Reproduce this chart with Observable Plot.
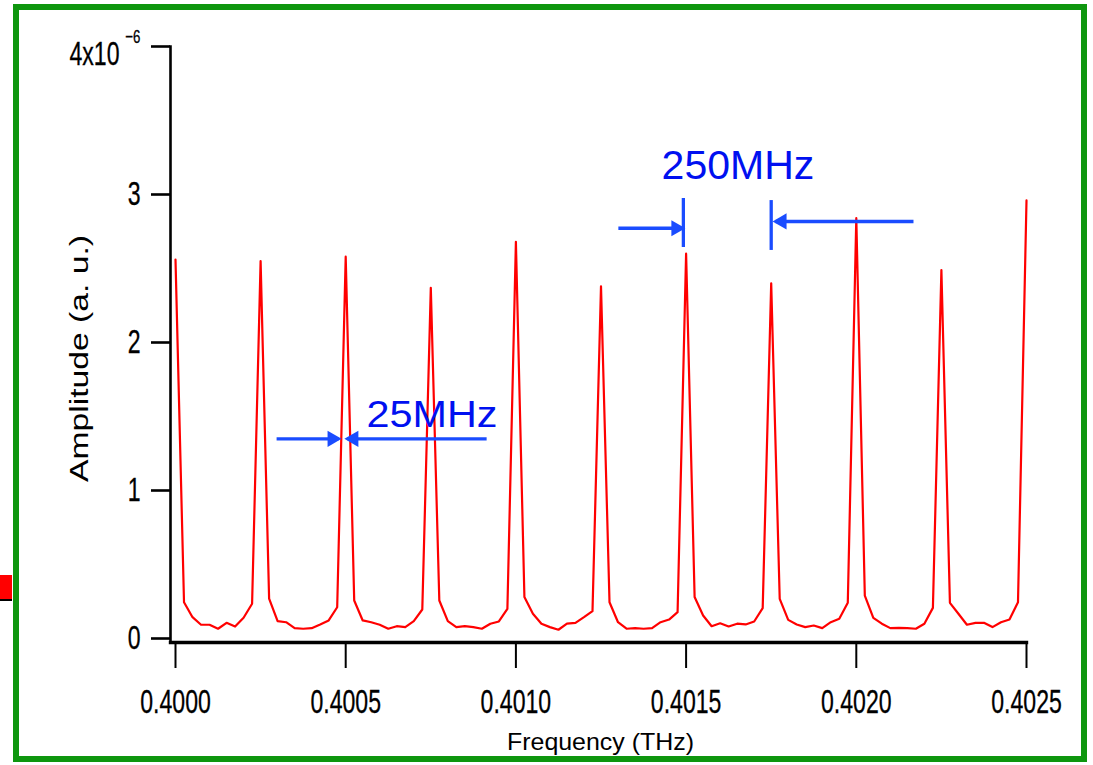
<!DOCTYPE html>
<html>
<head>
<meta charset="utf-8">
<script src="https://cdn.jsdelivr.net/npm/d3@7"></script>
<script src="https://cdn.jsdelivr.net/npm/@observablehq/plot@0.6"></script>
<style>
  html, body { margin: 0; padding: 0; background: #ffffff; }
  #wrap { position: relative; width: 1093px; height: 765px; overflow: hidden; background: #ffffff; }
  #chart { position: absolute; left: 0; top: 0; }
  #border { position: absolute; left: 13px; top: 4px; width: 1074px; height: 758px;
            box-sizing: border-box; border: 6px solid #0e960e; pointer-events: none; }
  /* edge of the neighbouring panel, cut off by the frame */
  #edge-red { position: absolute; left: 0; top: 575px; width: 12px; height: 24px; background: #ff0000; }
  #edge-axis { position: absolute; left: 0; top: 599px; width: 12px; height: 2px; background: #000000; }
</style>
</head>
<body>
<div id="wrap">
  <div id="edge-red"></div>
  <div id="edge-axis"></div>
  <div id="chart"></div>
  <div id="border"></div>
</div>
<script>
// Spectrum sampled every 25 MHz starting at 0.4000 THz (amplitudes in units of 1e-6)
const startFreq = 0.4;       // THz
const binStep = 0.000025;    // THz per sample (25 MHz)
const binsPerMode = 10;      // mode spacing 250 MHz

// comb-line peak amplitudes, 0.4000 ... 0.4025 THz
const peakAmps = [2.56, 2.55, 2.58, 2.37, 2.68, 2.38, 2.60, 2.40, 2.84, 2.49, 2.96];

// the nine samples between consecutive comb lines
const valleyAmps = [
  [0.245, 0.144, 0.093, 0.093, 0.066, 0.106, 0.081, 0.140, 0.235],
  [0.270, 0.117, 0.110, 0.070, 0.066, 0.070, 0.095, 0.122, 0.211],
  [0.257, 0.122, 0.110, 0.093, 0.066, 0.083, 0.077, 0.117, 0.196],
  [0.257, 0.117, 0.077, 0.083, 0.077, 0.066, 0.100, 0.115, 0.200],
  [0.280, 0.167, 0.100, 0.077, 0.059, 0.100, 0.106, 0.144, 0.185],
  [0.245, 0.110, 0.066, 0.070, 0.066, 0.070, 0.110, 0.128, 0.178],
  [0.280, 0.155, 0.083, 0.103, 0.081, 0.100, 0.095, 0.115, 0.205],
  [0.268, 0.126, 0.095, 0.077, 0.088, 0.070, 0.110, 0.133, 0.241],
  [0.290, 0.140, 0.100, 0.070, 0.072, 0.070, 0.066, 0.100, 0.207],
  [0.241, 0.167, 0.093, 0.106, 0.106, 0.077, 0.110, 0.128, 0.245]
];

const xTicks = [0.4000, 0.4005, 0.4010, 0.4015, 0.4020, 0.4025];
const yTicks = [0, 1, 2, 3, 4];
const yScaleLabel = ["4x10", "\u22126"];
const xLabel = "Frequency (THz)";
const yLabel = "Amplitude (a. u.)";

// spacing annotations (frequency in THz, amplitude in 1e-6)
const modeLabel = [{text: "250MHz", f: 0.401428, a: 3.108}];
const binLabel = [{text: "25MHz", f: 0.400561, a: 1.426}];
const modeBars = [
  {f: 0.401492, a1: 2.973, a2: 2.642},
  {f: 0.401750, a1: 2.959, a2: 2.622}
];
const spacingArrows = [
  {f1: 0.401301, f2: 0.401489, a: 2.772, dir: 1},
  {f1: 0.402168, f2: 0.401763, a: 2.818, dir: -1},
  {f1: 0.400297, f2: 0.400479, a: 1.349, dir: 1},
  {f1: 0.400914, f2: 0.400505, a: 1.349, dir: -1}
];

// assemble the sampled spectrum
const spectrum = [];
peakAmps.forEach((p, i) => {
  spectrum.push({f: startFreq + i * binsPerMode * binStep, a: p});
  if (i < valleyAmps.length) {
    valleyAmps[i].forEach((v, k) => {
      spectrum.push({f: startFreq + (i * binsPerMode + k + 1) * binStep, a: v});
    });
  }
});

const arrowBlue = "#1a4cff";
const textBlue = "#0010f0";
const sans = "'Liberation Sans', Arial, Helvetica, sans-serif";

const plot = Plot.plot({
  width: 1093,
  height: 765,
  marginLeft: 170,
  marginRight: 67,
  marginTop: 46,
  marginBottom: 123,
  insetLeft: 5,
  insetBottom: 4,
  style: {fontFamily: sans, background: "transparent", color: "#000", overflow: "visible"},
  x: {domain: [0.4, 0.4025]},
  y: {domain: [0, 4]},
  marks: [
    Plot.frame({anchor: "left", stroke: "#000", strokeWidth: 2.6}),
    Plot.frame({anchor: "bottom", stroke: "#000", strokeWidth: 3.4}),
    Plot.axisY(yTicks, {
      anchor: "left", tickSize: 19, tickPadding: 11, strokeWidth: 2.6, fontSize: 33,
      tickFormat: d => d === 4 ? "" : String(d), label: null
    }),
    Plot.axisX(xTicks, {
      anchor: "bottom", tickSize: 26, tickPadding: 21, strokeWidth: 2, fontSize: 33,
      tickFormat: d => d.toFixed(4), label: null
    }),
    Plot.text([4], {y: d => d, text: () => yScaleLabel[0], frameAnchor: "left",
      textAnchor: "end", lineAnchor: "middle", fontSize: 33, dx: -51, dy: 8}),
    Plot.text([4], {y: d => d, text: () => yScaleLabel[1], frameAnchor: "left",
      textAnchor: "end", lineAnchor: "middle", fontSize: 19, dx: -30, dy: -9.5}),
    Plot.text([xLabel], {text: d => d, frameAnchor: "bottom", lineAnchor: "bottom",
      textAnchor: "middle", fontSize: 24, dx: 2, dy: 107}),
    Plot.text([yLabel], {text: d => d, frameAnchor: "left", lineAnchor: "bottom",
      textAnchor: "middle", rotate: -90, fontSize: 25, dx: -83, dy: 14}),

    // spectrum
    Plot.line(spectrum, {x: "f", y: "a", stroke: "#ff0000", strokeWidth: 2.2, strokeLinejoin: "round"}),

    // spacing markers
    Plot.ruleX(modeBars, {x: "f", y1: "a1", y2: "a2", stroke: arrowBlue, strokeWidth: 3.3}),
    Plot.link(spacingArrows, {x1: "f1", x2: "f2", y1: "a", y2: "a", stroke: arrowBlue, strokeWidth: 3.4}),
    Plot.dot(spacingArrows.filter(d => d.dir > 0), {x: "f2", y: "a", symbol: "triangle",
      r: 6, rotate: 90, fill: arrowBlue, stroke: "none", dx: -6.3}),
    Plot.dot(spacingArrows.filter(d => d.dir < 0), {x: "f2", y: "a", symbol: "triangle",
      r: 6, rotate: -90, fill: arrowBlue, stroke: "none", dx: 6.3}),
    Plot.text(modeLabel, {x: "f", y: "a", text: "text", textAnchor: "start", lineAnchor: "bottom",
      fontSize: 41, fill: textBlue}),
    Plot.text(binLabel, {x: "f", y: "a", text: "text", textAnchor: "start", lineAnchor: "bottom",
      fontSize: 36, fill: textBlue})
  ]
});

document.getElementById("chart").appendChild(plot);

// narrow numerals for the tick labels and the scale factor
const svg = d3.select(plot);
const narrow = new Set([...xTicks.map(d => d.toFixed(4)), ...yTicks.map(String), ...yScaleLabel]);
svg.selectAll("text").each(function () {
  const s = this.textContent;
  if (narrow.has(s)) {
    const t = this.getAttribute("transform") || "";
    this.setAttribute("transform", t + " scale(0.7,1)");
    this.style.stroke = "#000";
    this.style.strokeWidth = "0.3px";
  }
  if (s === xLabel) { this.setAttribute("textLength", 187); this.setAttribute("lengthAdjust", "spacingAndGlyphs"); }
  if (s === yLabel) { this.setAttribute("textLength", 247); this.setAttribute("lengthAdjust", "spacingAndGlyphs"); }
  if (s === binLabel[0].text) { this.setAttribute("textLength", 131); this.setAttribute("lengthAdjust", "spacingAndGlyphs"); }
});
</script>
</body>
</html>
